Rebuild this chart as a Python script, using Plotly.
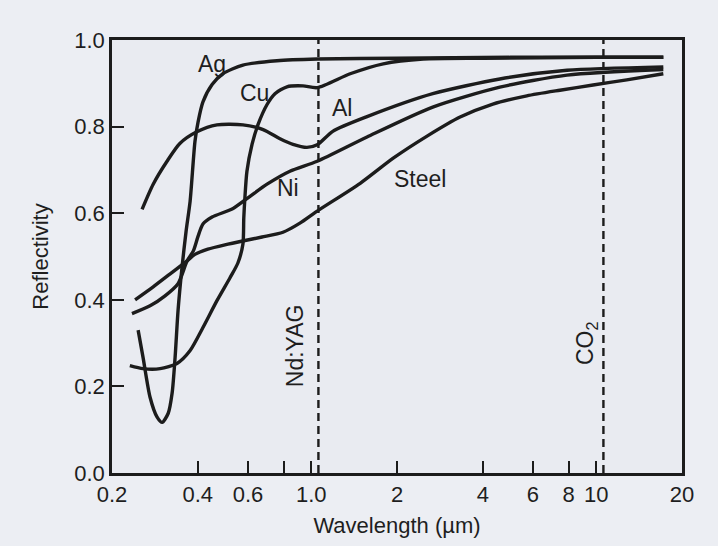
import math
import plotly.graph_objects as go

# ---- data ----
ag_wl = [0.247, 0.257, 0.272, 0.288, 0.300, 0.315, 0.325, 0.333, 0.341, 0.352, 0.364, 0.376,
         0.391, 0.401, 0.417, 0.449, 0.490, 0.576, 0.758, 1.05, 2.0, 5.0, 10.0, 17.2]
ag_r = [0.330, 0.267, 0.175, 0.129, 0.117, 0.138, 0.184, 0.267, 0.375, 0.474, 0.559, 0.628,
        0.766, 0.811, 0.857, 0.897, 0.922, 0.942, 0.952, 0.956, 0.958, 0.960, 0.960, 0.960]

cu_wl = [0.231, 0.257, 0.295, 0.338, 0.376, 0.417, 0.467, 0.519, 0.553, 0.576, 0.580, 0.585,
         0.595, 0.620, 0.651, 0.700, 0.746, 0.822, 0.936, 1.05, 1.37, 1.79, 2.47, 4.0, 10.0, 17.2]
cu_r = [0.248, 0.241, 0.241, 0.253, 0.283, 0.336, 0.398, 0.451, 0.485, 0.529, 0.589, 0.634,
        0.697, 0.759, 0.805, 0.851, 0.876, 0.892, 0.894, 0.890, 0.922, 0.945, 0.956, 0.958, 0.960, 0.960]

al_wl = [0.255, 0.279, 0.312, 0.346, 0.397, 0.467, 0.576, 0.678, 0.777, 0.863, 0.966, 1.05,
         1.19, 1.57, 2.67, 4.59, 7.9, 17.2]
al_r = [0.609, 0.667, 0.720, 0.761, 0.788, 0.804, 0.804, 0.793, 0.772, 0.759, 0.752, 0.758,
        0.789, 0.823, 0.876, 0.910, 0.930, 0.938]

ni_wl = [0.235, 0.272, 0.307, 0.341, 0.367, 0.386, 0.401, 0.417, 0.449, 0.532, 0.610, 0.700,
         0.842, 1.05, 1.57, 2.67, 4.59, 7.9, 17.2]
ni_r = [0.368, 0.386, 0.409, 0.437, 0.490, 0.513, 0.547, 0.575, 0.591, 0.611, 0.639, 0.667,
        0.697, 0.720, 0.776, 0.845, 0.891, 0.919, 0.932]

steel_wl = [0.241, 0.279, 0.320, 0.367, 0.391, 0.434, 0.498, 0.586, 0.672, 0.796, 0.913, 1.05,
            1.486, 1.94, 2.55, 3.33, 4.34, 5.71, 7.46, 9.75, 12.8, 17.2]
steel_r = [0.400, 0.430, 0.460, 0.490, 0.505, 0.517, 0.527, 0.537, 0.545, 0.556, 0.577, 0.605,
           0.669, 0.727, 0.778, 0.822, 0.852, 0.871, 0.884, 0.896, 0.908, 0.922]

laser_wl = [1.06, 10.6]
laser_names = ["Nd:YAG", "CO<sub>2</sub>"]

x_tickvals = [0.2, 0.4, 0.6, 1.0, 2, 4, 6, 8, 10, 20]
x_ticktext = ["0.2", "0.4", "0.6", "1.0", "2", "4", "6", "8", "10", "20"]
x_unlabelled_ticks = [0.8]
y_tickvals = [0.0, 0.2, 0.4, 0.6, 0.8, 1.0]

INK = "#1c1c1c"
TXT = "#1e1e1e"
FONT = "Liberation Sans, Arial, sans-serif"

fig = go.Figure()

series = [("Ag", ag_wl, ag_r), ("Cu", cu_wl, cu_r), ("Al", al_wl, al_r),
          ("Ni", ni_wl, ni_r), ("Steel", steel_wl, steel_r)]
for name, xs, ys in series:
    fig.add_trace(go.Scatter(x=xs, y=ys, mode="lines", name=name,
                             line=dict(color=INK, width=3.4, shape="spline", smoothing=0.7),
                             showlegend=False, hoverinfo="skip"))

for wl in laser_wl:
    fig.add_trace(go.Scatter(x=[wl, wl], y=[0, 1.0], mode="lines", showlegend=False,
                             line=dict(color=INK, width=2.4, dash="8px,5px"), hoverinfo="skip"))

# curve labels
labels = [("Ag", 0.449, 0.945), ("Cu", 0.63, 0.877), ("Al", 1.28, 0.843),
          ("Ni", 0.83, 0.658), ("Steel", 2.41, 0.680)]
for txt, xl, yl in labels:
    fig.add_annotation(x=math.log10(xl), y=yl, text=txt, showarrow=False,
                       font=dict(family=FONT, size=23, color=TXT))

# laser labels (rotated)
fig.add_annotation(x=math.log10(0.877), y=0.295, text=laser_names[0], showarrow=False, textangle=-90,
                   font=dict(family=FONT, size=23, color=TXT))
fig.add_annotation(x=math.log10(9.2), y=0.30, text=laser_names[1], showarrow=False, textangle=-90,
                   font=dict(family=FONT, size=23, color=TXT))

axis_common = dict(showline=True, linewidth=2.5, linecolor=INK, mirror=True, showgrid=False,
                   zeroline=False, ticks="inside", ticklen=12, tickwidth=2, tickcolor=INK,
                   tickfont=dict(family=FONT, size=22, color=TXT))

fig.update_layout(
    width=718, height=546,
    margin=dict(l=112, r=36, t=40, b=73),
    paper_bgcolor="#eceef3", plot_bgcolor="#e9ebf1",
    font=dict(family=FONT, size=22, color=TXT),
    xaxis=dict(type="log", range=[math.log10(0.2), math.log10(20)],
               tickmode="array", tickvals=x_tickvals, ticktext=x_ticktext,
               minor=dict(tickmode="array", tickvals=x_unlabelled_ticks, ticks="inside",
                          ticklen=12, tickwidth=2, tickcolor=INK, showgrid=False),
               title=dict(text="Wavelength (µm)", standoff=12, font=dict(family=FONT, size=22)),
               **axis_common),
    yaxis=dict(range=[0, 1.0], tickvals=y_tickvals, tickformat=".1f",
               title=dict(text="Reflectivity", standoff=20, font=dict(family=FONT, size=22)),
               **axis_common),
)

fig.write_html("out.html", config={"displayModeBar": False})
